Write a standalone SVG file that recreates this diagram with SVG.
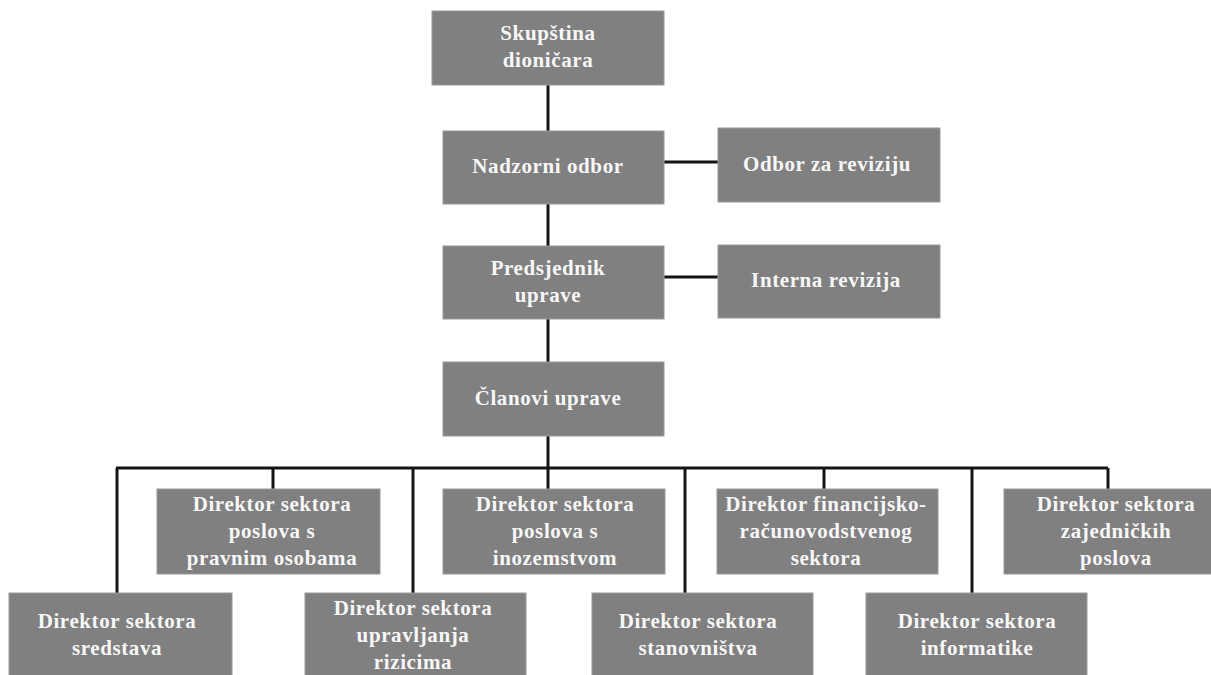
<svg xmlns="http://www.w3.org/2000/svg" width="1211" height="675" viewBox="0 0 1211 675">
<style>
.box{fill:#808080;stroke:#9a9a9a;stroke-width:1}
.t{font-family:"Liberation Serif","Times New Roman",serif;font-size:21px;font-weight:bold;fill:#f7f7f7;text-anchor:middle;letter-spacing:0.6px}
.conn{stroke:#141414;stroke-width:3;fill:none}
</style>
<rect width="1211" height="675" fill="#ffffff"/>
<g id="connectors">
<path class="conn" d="M548 85V131"/>
<path class="conn" d="M664 162H718"/>
<path class="conn" d="M548 204V246"/>
<path class="conn" d="M664 277H718"/>
<path class="conn" d="M548 319V362"/>
<path class="conn" d="M548 436V489"/>
<path class="conn" d="M116 468H1108"/>
<path class="conn" d="M117 468V593"/>
<path class="conn" d="M273 468V489"/>
<path class="conn" d="M413 468V593"/>
<path class="conn" d="M685 468V593"/>
<path class="conn" d="M824 468V489"/>
<path class="conn" d="M972 468V593"/>
<path class="conn" d="M1108 468V489"/>
</g>
<g id="skupstina">
<rect class="box" x="432" y="11" width="232" height="74"/>
<text class="t" x="548" y="40">Skupština</text>
<text class="t" x="548" y="67">dioničara</text>
</g>
<g id="nadzorni">
<rect class="box" x="443" y="131" width="221" height="73"/>
<text class="t" x="548" y="173">Nadzorni odbor</text>
</g>
<g id="odbor-revizija">
<rect class="box" x="718" y="128" width="222" height="74"/>
<text class="t" x="827" y="171">Odbor za reviziju</text>
</g>
<g id="predsjednik">
<rect class="box" x="443" y="246" width="221" height="73"/>
<text class="t" x="548" y="275">Predsjednik</text>
<text class="t" x="548" y="302">uprave</text>
</g>
<g id="interna">
<rect class="box" x="718" y="245" width="222" height="73"/>
<text class="t" x="826" y="287">Interna revizija</text>
</g>
<g id="clanovi">
<rect class="box" x="443" y="362" width="221" height="74"/>
<text class="t" x="548" y="405">Članovi uprave</text>
</g>
<g id="pravne">
<rect class="box" x="157" y="489" width="223" height="85"/>
<text class="t" x="272" y="511">Direktor sektora</text>
<text class="t" x="272" y="538">poslova s</text>
<text class="t" x="272" y="565">pravnim osobama</text>
</g>
<g id="inozemstvo">
<rect class="box" x="443" y="489" width="222" height="85"/>
<text class="t" x="555" y="511">Direktor sektora</text>
<text class="t" x="555" y="538">poslova s</text>
<text class="t" x="555" y="565">inozemstvom</text>
</g>
<g id="financije">
<rect class="box" x="717" y="489" width="221" height="85"/>
<text class="t" x="826" y="511">Direktor financijsko-</text>
<text class="t" x="826" y="538">računovodstvenog</text>
<text class="t" x="826" y="565">sektora</text>
</g>
<g id="zajednicki">
<rect class="box" x="1004" y="489" width="215" height="85"/>
<text class="t" x="1116" y="511">Direktor sektora</text>
<text class="t" x="1116" y="538">zajedničkih</text>
<text class="t" x="1116" y="565">poslova</text>
</g>
<g id="sredstva">
<rect class="box" x="9" y="593" width="223" height="90"/>
<text class="t" x="117" y="628">Direktor sektora</text>
<text class="t" x="117" y="655">sredstava</text>
</g>
<g id="rizici">
<rect class="box" x="305" y="593" width="221" height="90"/>
<text class="t" x="413" y="615">Direktor sektora</text>
<text class="t" x="413" y="642">upravljanja</text>
<text class="t" x="413" y="669">rizicima</text>
</g>
<g id="stanovnistvo">
<rect class="box" x="592" y="593" width="221" height="90"/>
<text class="t" x="698" y="628">Direktor sektora</text>
<text class="t" x="698" y="655">stanovništva</text>
</g>
<g id="informatika">
<rect class="box" x="866" y="593" width="221" height="90"/>
<text class="t" x="977" y="628">Direktor sektora</text>
<text class="t" x="977" y="655">informatike</text>
</g>
</svg>
